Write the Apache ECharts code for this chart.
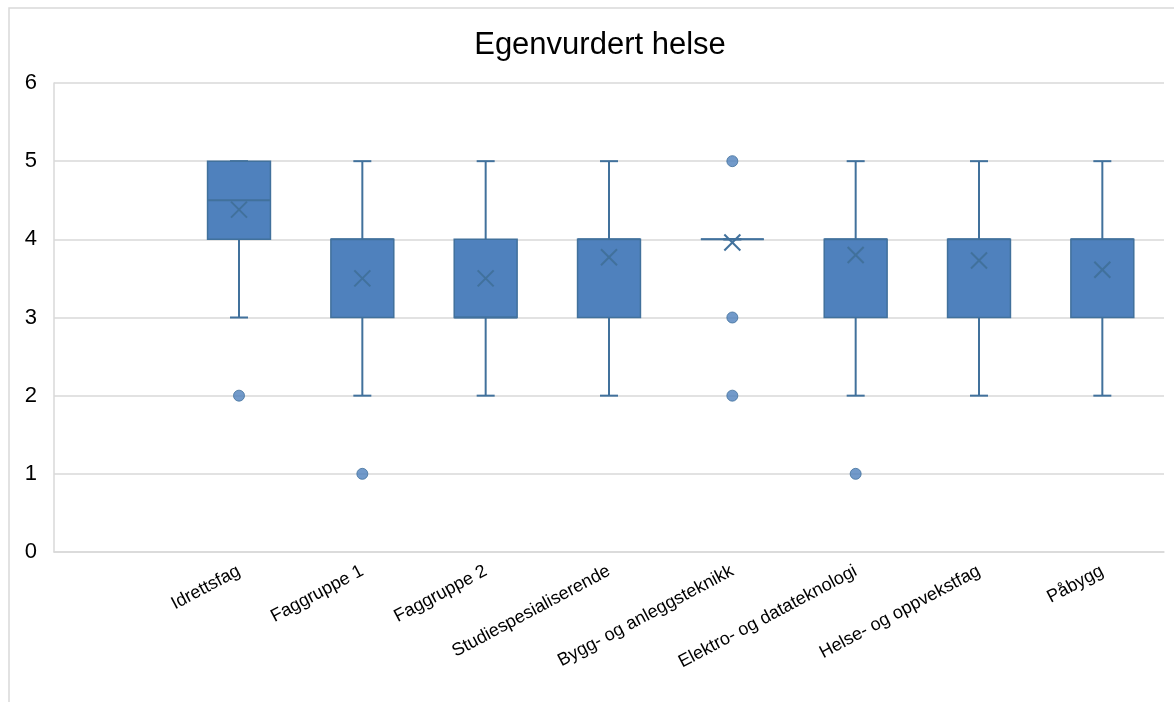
<!DOCTYPE html>
<html>
<head>
<meta charset="utf-8">
<style>
  html, body { margin: 0; padding: 0; background: #fff; }
  #chart { width: 1174px; height: 702px; }
</style>
<script src="https://cdn.jsdelivr.net/npm/echarts@6/dist/echarts.min.js"></script>
</head>
<body>
<div id="chart"></div>
<script>
// Categories (first slot intentionally blank)
const categories = ['', 'Idrettsfag', 'Faggruppe 1', 'Faggruppe 2', 'Studiespesialiserende',
  'Bygg- og anleggsteknikk', 'Elektro- og datateknologi', 'Helse- og oppvekstfag', 'Påbygg'];

// Box statistics per category (null = no box)
const whiskerLow  = [null, 3, 2, 2, 2, 4, 2, 2, 2];
const quartile1   = [null, 4, 3, 3, 3, 4, 3, 3, 3];
const medians     = [null, 4.5, 4, 3, 4, 4, 4, 4, 4];
const quartile3   = [null, 5, 4, 4, 4, 4, 4, 4, 4];
const whiskerHigh = [null, 5, 5, 5, 5, 4, 5, 5, 5];
const means       = [null, 4.38, 3.5, 3.5, 3.77, 3.96, 3.8, 3.73, 3.61];

// Outlier points: [category index, value]
const outliers = [[1, 2], [2, 1], [5, 5], [5, 3], [5, 2], [6, 1]];

// Y axis ticks
const yMin = 0, yMax = 6, yStep = 1;

const FILL = '#4F81BD';
const EDGE = '#41719C';

const boxData = [];
categories.forEach((c, i) => {
  if (whiskerLow[i] === null) return;
  boxData.push([i, whiskerLow[i], quartile1[i], medians[i], quartile3[i], whiskerHigh[i], means[i]]);
});

function renderBox(params, api) {
  const idx = api.value(0);
  const slot = api.size([1, 0])[0];
  const halfBox = slot * 0.255;
  const halfCap = 9;
  const pLow = api.coord([idx, api.value(1)]);
  const pQ1 = api.coord([idx, api.value(2)]);
  const pMed = api.coord([idx, api.value(3)]);
  const pQ3 = api.coord([idx, api.value(4)]);
  const pHigh = api.coord([idx, api.value(5)]);
  const pMean = api.coord([idx, api.value(6)]);
  const x = pQ1[0];
  const lineStyle = { stroke: EDGE, lineWidth: 2 };
  const children = [
    // lower whisker + cap
    { type: 'line', shape: { x1: x, y1: pQ1[1], x2: x, y2: pLow[1] }, style: lineStyle },
    { type: 'line', shape: { x1: x - halfCap, y1: pLow[1], x2: x + halfCap, y2: pLow[1] }, style: lineStyle },
    // upper whisker + cap
    { type: 'line', shape: { x1: x, y1: pQ3[1], x2: x, y2: pHigh[1] }, style: lineStyle },
    { type: 'line', shape: { x1: x - halfCap, y1: pHigh[1], x2: x + halfCap, y2: pHigh[1] }, style: lineStyle },
    // box
    { type: 'rect', shape: { x: x - halfBox, y: pQ3[1], width: halfBox * 2, height: pQ1[1] - pQ3[1] },
      style: { fill: FILL, stroke: EDGE, lineWidth: 1.5 } },
    // median
    { type: 'line', shape: { x1: x - halfBox, y1: pMed[1], x2: x + halfBox, y2: pMed[1] }, style: lineStyle },
    // mean marker (X)
    { type: 'line', shape: { x1: pMean[0] - 8, y1: pMean[1] - 8, x2: pMean[0] + 8, y2: pMean[1] + 8 }, style: lineStyle },
    { type: 'line', shape: { x1: pMean[0] - 8, y1: pMean[1] + 8, x2: pMean[0] + 8, y2: pMean[1] - 8 }, style: lineStyle }
  ];
  return { type: 'group', children };
}

const chart = echarts.init(document.getElementById('chart'), null, { renderer: 'canvas' });
chart.setOption({
  animation: false,
  backgroundColor: '#fff',
  textStyle: { fontFamily: '"Liberation Sans", Arial, sans-serif' },
  title: {
    text: 'Egenvurdert helse',
    left: 595,
    textAlign: 'center',
    top: 25,
    textStyle: { fontSize: 31, fontWeight: 'normal', color: '#000', fontFamily: '"Liberation Sans", Arial, sans-serif' }
  },
  graphic: [{
    type: 'rect',
    shape: { x: 9, y: 8, width: 1200, height: 720 },
    style: { fill: 'none', stroke: '#d9d9d9', lineWidth: 1.5 },
    silent: true,
    z: -1
  }],
  grid: { left: 54, right: 10, top: 83, bottom: 150, containLabel: false },
  xAxis: {
    type: 'category',
    data: categories,
    boundaryGap: true,
    axisLine: { lineStyle: { color: '#d9d9d9', width: 1.5 } },
    axisTick: { show: false },
    axisLabel: { interval: 0, rotate: 28, fontSize: 18, color: '#000', margin: 18 }
  },
  yAxis: {
    type: 'value',
    min: yMin, max: yMax, interval: yStep,
    axisLine: { show: true, lineStyle: { color: '#d9d9d9', width: 1.5 } },
    axisTick: { show: false },
    splitLine: { lineStyle: { color: '#d9d9d9', width: 1.5 } },
    axisLabel: { fontSize: 22, color: '#000', margin: 17 }
  },
  series: [
    {
      type: 'custom',
      renderItem: renderBox,
      data: boxData,
      encode: { x: 0, y: [1, 5] },
      z: 3
    },
    {
      type: 'scatter',
      data: outliers,
      symbol: 'circle',
      symbolSize: 11,
      itemStyle: { color: FILL, borderColor: EDGE, borderWidth: 1 },
      z: 4
    }
  ]
});
</script>
</body>
</html>
